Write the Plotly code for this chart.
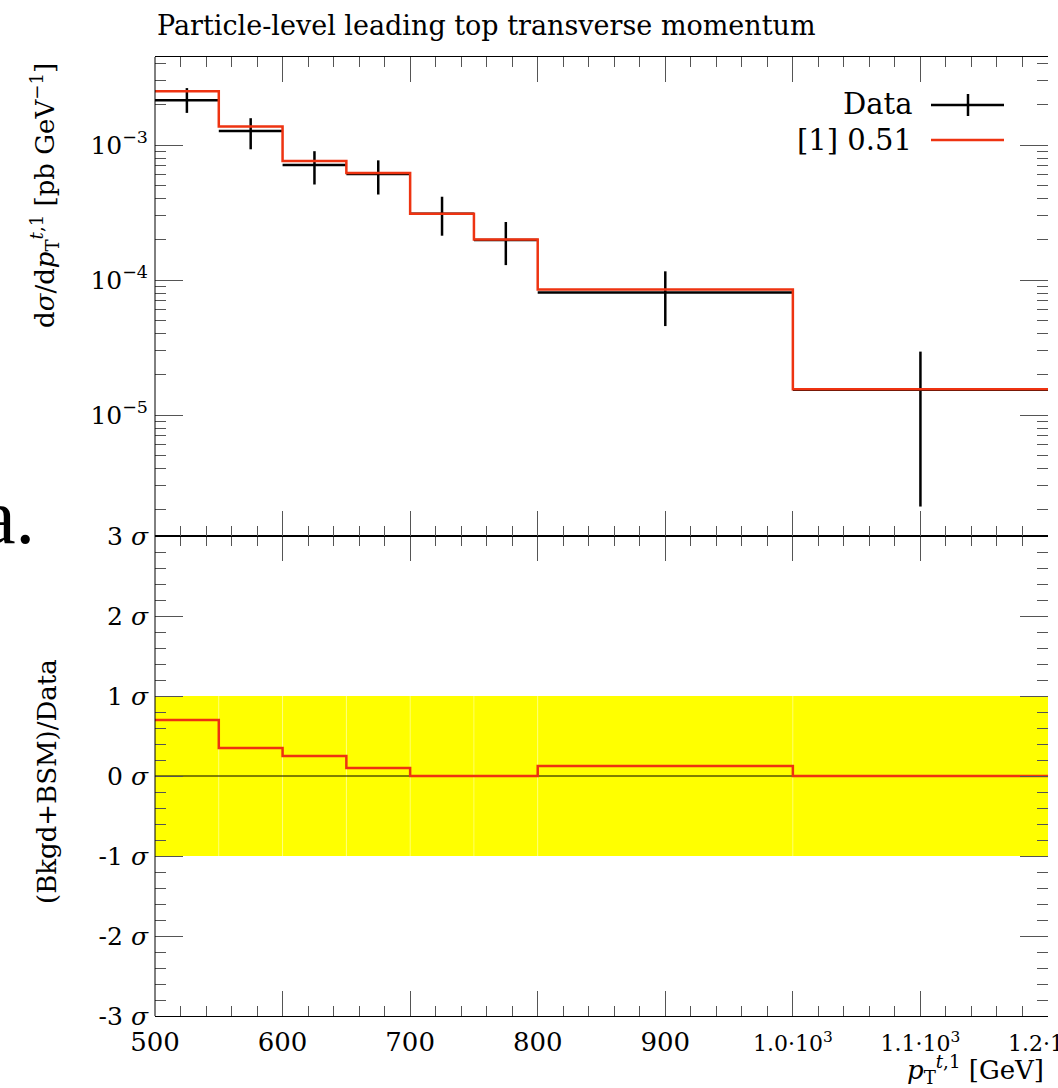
import plotly.graph_objects as go
import numpy as np

# ---------------- data ----------------
bin_edges = [500, 550, 600, 650, 700, 750, 800, 1000, 1200]
data_vals = [2.15e-3, 1.27e-3, 7.1e-4, 6.1e-4, 3.1e-4, 1.98e-4, 8.1e-5, 1.54e-5]
data_err_up = [4.9e-4, 3.1e-4, 1.9e-4, 1.6e-4, 1.04e-4, 7.1e-5, 3.5e-5, 1.41e-5]
data_err_dn = [4.2e-4, 3.4e-4, 2.0e-4, 1.8e-4, 9.7e-5, 6.9e-5, 3.54e-5, 1.33e-5]
model_vals = [2.50e-3, 1.37e-3, 7.6e-4, 6.2e-4, 3.1e-4, 2.0e-4, 8.5e-5, 1.55e-5]
ratio_vals = [0.70, 0.35, 0.25, 0.10, 0.0, 0.0, 0.125, 0.0]

x_tickvals = [500, 600, 700, 800, 900, 1000, 1100, 1200]
x_ticktext = ["500", "600", "700", "800", "900",
              "<span style='font-size:22px'>1.0·10<sup>3</sup></span>",
              "<span style='font-size:22px'>1.1·10<sup>3</sup></span>",
              "<span style='font-size:22px'>1.2·10<sup>3</sup></span>"]
y_top_tickvals = [1e-5, 1e-4, 1e-3]
y_top_ticktext = ["10<sup>−5</sup>", "10<sup>−4</sup>", "10<sup>−3</sup>"]
y_bot_tickvals = [-3, -2, -1, 0, 1, 2, 3]
y_bot_ticktext = ["-3 <i>σ</i>", "-2 <i>σ</i>", "-1 <i>σ</i>", "0 <i>σ</i>",
                  "1 <i>σ</i>", "2 <i>σ</i>", "3 <i>σ</i>"]

RED = "#ee3311"
FONT = "DejaVu Serif"

# ---------------- geometry helpers ----------------
L, R, T, B = 155, 1048, 57, 1016
W_IMG, H_IMG = 1058, 1088
def px(x):
    return (x - L) / (R - L)
def py(y):
    return (B - y) / (B - T)
split = py(536)

centers = [(a + b) / 2 for a, b in zip(bin_edges[:-1], bin_edges[1:])]
halfw = [(b - a) / 2 for a, b in zip(bin_edges[:-1], bin_edges[1:])]

fig = go.Figure()

# top panel: data crosses
fig.add_trace(go.Scatter(
    x=centers, y=data_vals, mode="markers",
    marker=dict(size=1, color="black"),
    error_x=dict(type="data", array=halfw, symmetric=True, width=0, thickness=2.5, color="black"),
    error_y=dict(type="data", array=data_err_up, arrayminus=data_err_dn, symmetric=False,
                 width=0, thickness=2.5, color="black"),
    xaxis="x2", yaxis="y", showlegend=False, hoverinfo="skip"))
# model step over data
fig.add_trace(go.Scatter(
    x=bin_edges, y=model_vals + [model_vals[-1]], mode="lines",
    line=dict(color=RED, width=2.5, shape="hv"),
    xaxis="x2", yaxis="y", showlegend=False, hoverinfo="skip"))

# bottom panel: yellow ±1σ band, one box per bin
for a, b in zip(bin_edges[:-1], bin_edges[1:]):
    fig.add_trace(go.Scatter(
        x=[a, b, b, a, a], y=[-1, -1, 1, 1, -1], mode="lines", fill="toself",
        fillcolor="#ffff00", line=dict(width=0), xaxis="x", yaxis="y2",
        showlegend=False, hoverinfo="skip"))
# faint seams between bins
for e in bin_edges[1:-1]:
    fig.add_trace(go.Scatter(
        x=[e, e], y=[-1, 1], mode="lines", line=dict(color="rgba(255,255,255,0.35)", width=1),
        xaxis="x", yaxis="y2", showlegend=False, hoverinfo="skip"))
# zero line
fig.add_trace(go.Scatter(
    x=[bin_edges[0], bin_edges[-1]], y=[0, 0], mode="lines",
    line=dict(color="black", width=1), xaxis="x", yaxis="y2",
    showlegend=False, hoverinfo="skip"))
# ratio step
fig.add_trace(go.Scatter(
    x=bin_edges, y=ratio_vals + [ratio_vals[-1]], mode="lines",
    line=dict(color=RED, width=2.5, shape="hv"),
    xaxis="x", yaxis="y2", showlegend=False, hoverinfo="skip"))

# minor ticks
ymin_log, ymax_log = -5.896, -2.348
minor_top = [m * 10.0 ** k for k in range(-7, -1) for m in range(2, 10)
             if ymin_log <= np.log10(m * 10.0 ** k) <= ymax_log]
minor_x = [v for v in range(500, 1201, 20) if v % 100 != 0]
minor_bot = [round(v, 1) for v in np.arange(-3, 3.01, 0.2) if abs(v - round(v)) > 1e-6]

xtickfont = dict(family=FONT, size=26, color="black")
ytickfont = dict(family=FONT, size=25, color="black")
common_x = dict(range=[500, 1200], ticks="inside", ticklen=25, tickwidth=1, tickcolor="#555",
                mirror="allticks", showline=True, linecolor="black", linewidth=1,
                showgrid=False, zeroline=False, tickmode="array", tickvals=x_tickvals,
                automargin=False,
                minor=dict(ticks="inside", ticklen=10, tickwidth=1, tickcolor="#555",
                           tickmode="array", tickvals=minor_x, showgrid=False))

fig.update_layout(
    width=W_IMG, height=H_IMG,
    margin=dict(l=L, r=W_IMG - R, t=T, b=H_IMG - B, autoexpand=False),
    paper_bgcolor="white", plot_bgcolor="white",
    xaxis=dict(domain=[0, 1], anchor="y2", ticktext=x_ticktext, showticklabels=True,
               tickfont=xtickfont, ticklabelstandoff=3, ticklabeloverflow="allow", **common_x),
    xaxis2=dict(domain=[0, 1], anchor="y", matches="x", showticklabels=False, **common_x),
    yaxis=dict(domain=[split, 1], anchor="x2", type="log", range=[ymin_log, ymax_log],
               ticks="inside", ticklen=28, tickwidth=1, tickcolor="#555", automargin=False,
               mirror="allticks", showline=False, showgrid=False, zeroline=False,
               tickmode="array", tickvals=y_top_tickvals, ticktext=y_top_ticktext,
               tickfont=ytickfont, ticklabelstandoff=6,
               minor=dict(ticks="inside", ticklen=11, tickwidth=1, tickcolor="#555",
                          tickmode="array", tickvals=minor_top, showgrid=False)),
    yaxis2=dict(domain=[0, split], anchor="x", range=[-3, 3],
                ticks="inside", ticklen=28, tickwidth=1, tickcolor="#555", automargin=False,
                mirror="allticks", showline=False, showgrid=False, zeroline=False,
                tickmode="array", tickvals=y_bot_tickvals, ticktext=y_bot_ticktext,
                tickfont=ytickfont, ticklabelstandoff=6,
                minor=dict(ticks="inside", ticklen=11, tickwidth=1, tickcolor="#555",
                           tickmode="array", tickvals=minor_bot, showgrid=False)),
)

# left frame line
fig.add_shape(type="line", xref="paper", yref="paper", x0=0, x1=0, y0=0, y1=1,
              line=dict(color="black", width=1))

leg_font = dict(family=FONT, size=29, color="black")
anns = [
    dict(text="Particle-level leading top transverse momentum", x=px(155), y=py(25),
         xanchor="left", yanchor="middle", font=dict(family=FONT, size=27, color="black")),
    dict(text="d<i>σ</i>/d<i>p</i><sub>T</sub><sup><i>t</i>,1</sup> [pb GeV<sup>−1</sup>]",
         x=px(44), y=py(196), textangle=-90, xanchor="center", yanchor="middle",
         font=dict(family=FONT, size=26, color="black")),
    dict(text="(Bkgd+BSM)/Data", x=px(47), y=py(782), textangle=-90,
         xanchor="center", yanchor="middle", font=dict(family=FONT, size=26, color="black")),
    dict(text="<i>p</i><sub>T</sub><sup><i>t</i>,1</sup> [GeV]", x=px(1046), y=py(1069),
         xanchor="right", yanchor="middle", font=dict(family=FONT, size=26, color="black")),
    dict(text="Data", x=px(914), y=py(104), xanchor="right", yanchor="middle", font=leg_font),
    dict(text="[1] 0.51", x=px(914), y=py(140), xanchor="right", yanchor="middle", font=leg_font),
    dict(text="a.", x=px(37), y=py(516), xanchor="right", yanchor="middle",
         font=dict(family="Liberation Serif", size=78, color="black")),
]
for a in anns:
    fig.add_annotation(xref="paper", yref="paper", showarrow=False, **a)

# legend samples
fig.add_shape(type="line", xref="paper", yref="paper", x0=px(931), x1=px(1004),
              y0=py(105), y1=py(105), line=dict(color="black", width=2.5))
fig.add_shape(type="line", xref="paper", yref="paper", x0=px(968), x1=px(968),
              y0=py(94), y1=py(116), line=dict(color="black", width=2.5))
fig.add_shape(type="line", xref="paper", yref="paper", x0=px(931), x1=px(1004),
              y0=py(140), y1=py(140), line=dict(color=RED, width=2.5))

fig.write_html("out.html")
